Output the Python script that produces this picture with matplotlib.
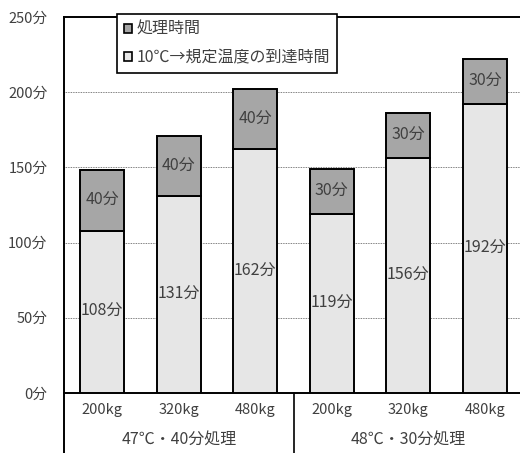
import matplotlib.pyplot as plt
from matplotlib.transforms import blended_transform_factory
from matplotlib.patches import Patch

plt.rcParams['font.family'] = ['Noto Sans CJK JP', 'DejaVu Sans']

loads = ['200kg', '320kg', '480kg', '200kg', '320kg', '480kg']
groups = ['47℃・40分処理', '48℃・30分処理']
heatup = [108, 131, 162, 119, 156, 192]   # 10℃→規定温度の到達時間
hold = [40, 40, 40, 30, 30, 30]           # 処理時間
yticks = [0, 50, 100, 150, 200, 250]

c_low = '#e6e6e6'
c_top = '#a6a6a6'
txt = '#404040'

fig = plt.figure(figsize=(5.2, 4.53), dpi=100)
ax = fig.add_axes([0.123, 0.1325, 0.883, 0.83])

x = list(range(len(loads)))
ax.bar(x, heatup, width=0.575, color=c_low, edgecolor='black', linewidth=1.4, zorder=3)
ax.bar(x, hold, bottom=heatup, width=0.575, color=c_top, edgecolor='black', linewidth=1.4, zorder=3)

for i in x:
    ax.text(i, heatup[i] / 2, f'{heatup[i]}分', ha='center', va='center',
            fontsize=11.5, color=txt, zorder=4)
    ax.text(i, heatup[i] + hold[i] / 2, f'{hold[i]}分', ha='center', va='center',
            fontsize=11.5, color=txt, zorder=4)

ax.set_ylim(0, 250)
ax.set_xlim(-0.5, 5.5)
ax.set_yticks(yticks)
ax.set_yticklabels([f'{v}分' for v in yticks], fontsize=10.5, color=txt)
ax.tick_params(axis='y', length=0, pad=12)
ax.set_xticks(x)
ax.set_xticklabels(loads, fontsize=10.5, color=txt)
ax.tick_params(axis='x', length=0, pad=7)

for v in yticks[1:-1]:
    ax.axhline(v, color='#555555', linewidth=0.6, linestyle=(0, (1, 1)), zorder=1)

for s in ['left', 'top', 'bottom']:
    ax.spines[s].set_color('black')
    ax.spines[s].set_linewidth(1.4)
ax.spines['right'].set_visible(False)

# second level of the category axis
tr = blended_transform_factory(ax.transData, ax.transAxes)
ax.plot([-0.5, -0.5], [0, -0.17], color='black', lw=1.4, transform=tr, clip_on=False)
ax.plot([2.5, 2.5], [0, -0.17], color='black', lw=1.2, transform=tr, clip_on=False)
ax.text(1, -0.125, groups[0], ha='center', va='center', fontsize=11.5, color=txt, transform=tr)
ax.text(4, -0.125, groups[1], ha='center', va='center', fontsize=11.5, color=txt, transform=tr)

handles = [Patch(facecolor=c_top, edgecolor='black', linewidth=1.2),
           Patch(facecolor=c_low, edgecolor='black', linewidth=1.2)]
leg = fig.legend(handles, ['処理時間', '10℃→規定温度の到達時間'],
                 loc='upper left', bbox_to_anchor=(0.225, 0.97),
                 fontsize=11.5, frameon=True, fancybox=False, edgecolor='black',
                 framealpha=1, handlelength=0.5, handleheight=0.5,
                 handletextpad=0.25, borderpad=0.45, labelspacing=0.7,
                 borderaxespad=0)
leg.get_frame().set_linewidth(1.2)
for t in leg.get_texts():
    t.set_color(txt)

fig.savefig('out.png', dpi=100)
